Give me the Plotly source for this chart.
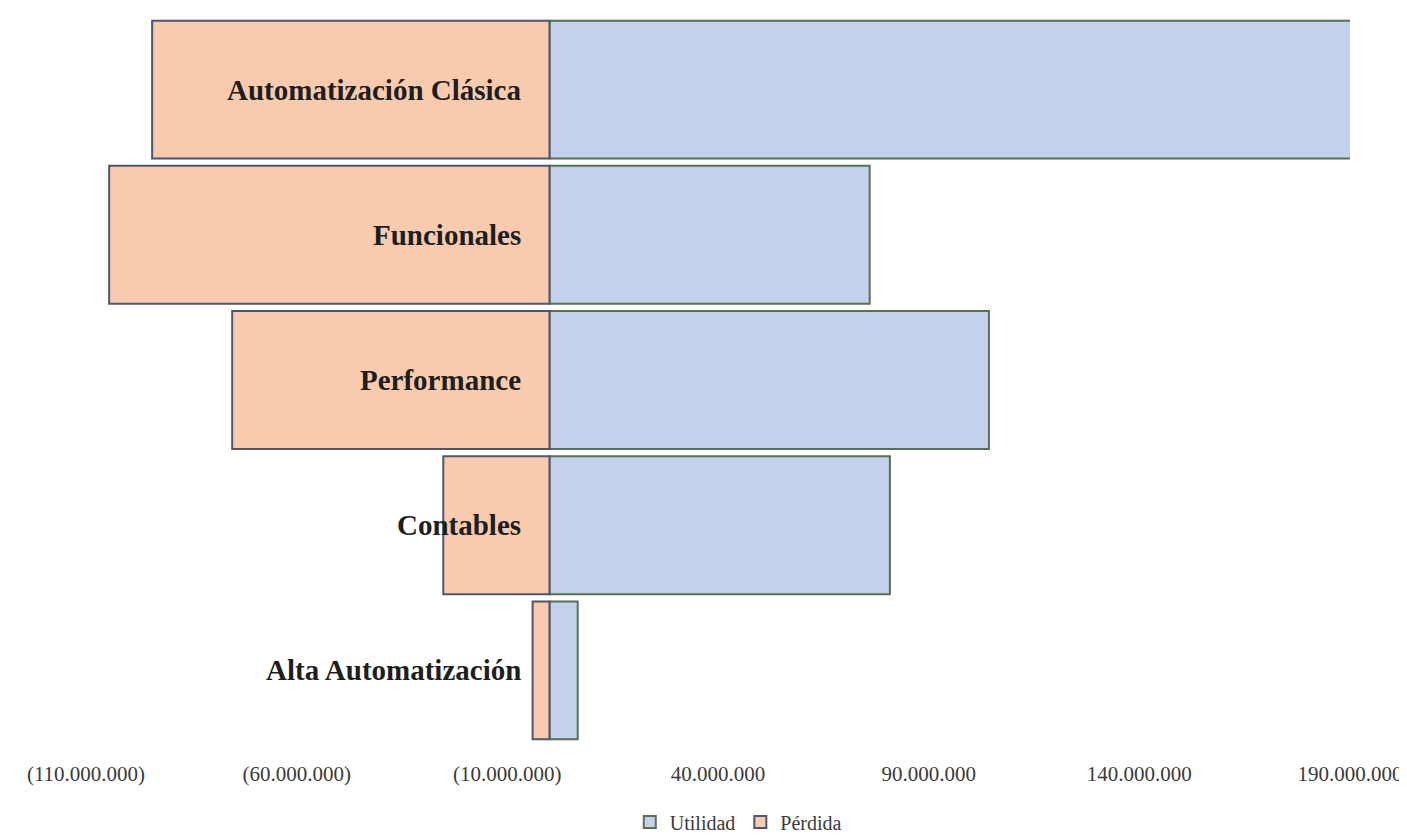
import plotly.graph_objects as go

categories = ["Automatización Clásica", "Funcionales", "Performance", "Contables", "Alta Automatización"]
utilidad = [190500000, 76000000, 104300000, 80800000, 6700000]
perdida = [-94300000, -104500000, -75300000, -25200000, -4000000]
tick_vals = [-110000000, -60000000, -10000000, 40000000, 90000000, 140000000, 190000000]
tick_text = ["(110.000.000)", "(60.000.000)", "(10.000.000)", "40.000.000", "90.000.000", "140.000.000", "190.000.000"]

serif = "Liberation Serif, Times New Roman, serif"

fig = go.Figure()
fig.add_trace(go.Bar(
    y=categories, x=utilidad, orientation="h", name="Utilidad",
    marker=dict(color="#c3d1ec", line=dict(color="#58714f", width=2)),
))
fig.add_trace(go.Bar(
    y=categories, x=perdida, orientation="h", name="Pérdida",
    marker=dict(color="#f8cbae", line=dict(color="#4d566c", width=2)),
))

for c in categories:
    fig.add_annotation(x=0, y=c, xref="x", yref="y", text=f"<b>{c}</b>",
                       showarrow=False, xanchor="right", xshift=-26,
                       font=dict(family=serif, size=29, color="#1e1e1e"))

fig.update_layout(
    width=1399, height=827,
    margin=dict(l=78, r=57, t=9, b=92, autoexpand=False),
    barmode="relative", bargap=0.05,
    plot_bgcolor="white", paper_bgcolor="white",
    font=dict(family=serif, size=18, color="#3a3a3a"),
    legend=dict(orientation="h", x=0.522, xanchor="center", xref="container",
                y=0.0157, yanchor="middle", yref="container",
                font=dict(family=serif, size=20, color="#3a3a3a"), traceorder="normal",
                itemwidth=30),
    showlegend=True,
)
fig.update_xaxes(range=[-110000000, 190000000], tickvals=tick_vals, ticktext=tick_text,
                 showgrid=False, zeroline=False, showline=False,
                 ticks="outside", ticklen=12, tickcolor="rgba(0,0,0,0)",
                 tickfont=dict(family=serif, size=21, color="#3a3a3a"))
fig.update_yaxes(autorange="reversed", showticklabels=False, showgrid=False,
                 zeroline=False, showline=False, ticks="")

fig.write_html("out.html")
